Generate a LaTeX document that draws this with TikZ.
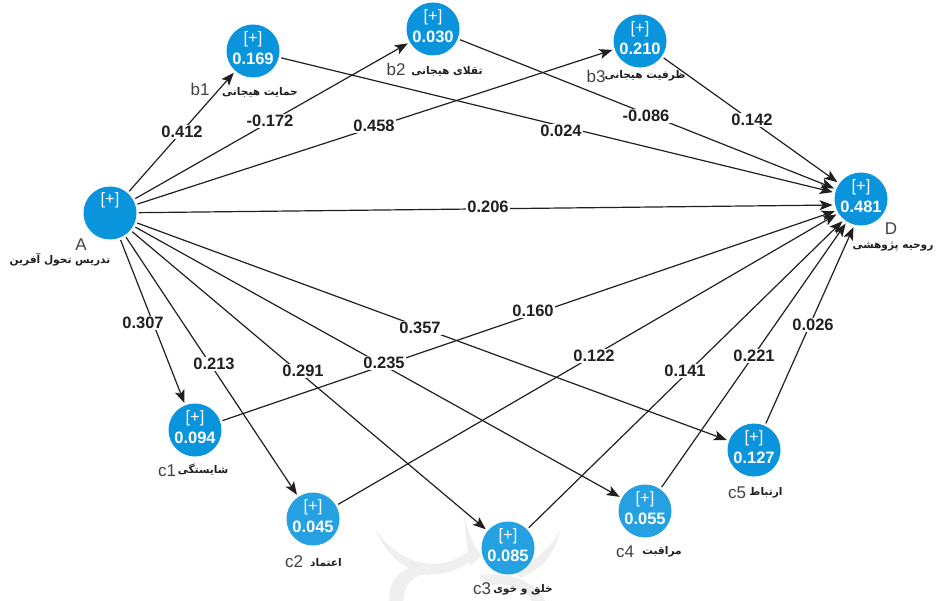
\documentclass[tikz,border=0pt]{standalone}
\usepackage{fontspec}
\setmainfont{Liberation Sans}
\newfontfamily\arabicfont[Script=Arabic]{DejaVu Sans}
\TeXXeTstate=1
\usetikzlibrary{arrows.meta}
\definecolor{nodeblue}{HTML}{0A94DC}
\definecolor{nodelight}{HTML}{25A1E1}
\definecolor{edgeink}{HTML}{231F20}
\definecolor{watermark}{HTML}{EFEFEF}
\newcommand{\fa}[1]{{\arabicfont\bfseries\beginR #1\endR}}
\tikzset{
  x=1pt,y=-1pt,
  latent/.style={circle,fill=nodeblue,minimum size=53pt,inner sep=0pt,outer sep=2.5pt},
  latentlight/.style={latent,fill=nodelight},
  valuetext/.style={text=white,font=\fontsize{16.5}{21.5}\selectfont,align=center,inner sep=0pt,yshift=3pt},
  path/.style={draw=edgeink,line width=1.2pt,-{Stealth[length=13pt,width=10pt,inset=3pt]}},
  coef/.style={fill=white,text=edgeink,inner sep=1.5pt,font=\fontsize{16.5}{18}\selectfont\bfseries},
  tag/.style={text=edgeink!85,inner sep=0pt,font=\fontsize{17}{18}\selectfont},
  fatag/.style={text=edgeink,inner sep=0pt,font=\fontsize{10.6}{13}\selectfont},
}
\newcommand{\val}[1]{[+]\\\textbf{#1}}
\begin{document}
\begin{tikzpicture}
\useasboundingbox (0,0) rectangle (936,601);
\fill[white] (0,0) rectangle (936,601);

% faint watermark behind the diagram
\fill[watermark] (375,528) .. controls (395,562) and (440,578) .. (472,548) -- (474,558) .. controls (435,590) and (392,572) .. (375,528) -- cycle;
\fill[watermark] (463,510) .. controls (467,530) and (472,545) .. (482,556) -- (470,566) .. controls (466,545) and (466,530) .. (463,510) -- cycle;
\fill[watermark] (560,530) .. controls (556,552) and (542,570) .. (520,578) -- (512,570) .. controls (530,565) and (550,550) .. (560,530) -- cycle;
\fill[watermark] (389,601) .. controls (388,578) and (405,562) .. (428,568) -- (430,575) .. controls (414,572) and (404,585) .. (403,601) -- cycle;
\fill[watermark] (480,575) .. controls (510,572) and (535,580) .. (545,601) -- (532,601) .. controls (525,588) and (505,582) .. (486,585) -- cycle;

\node[latent,label={[valuetext,yshift=10pt]center:{[+]}}] (A) at (110,213) {};
\node[latent,label={[valuetext]center:{\val{0.169}}}] (b1) at (253,51) {};
\node[latent,label={[valuetext]center:{\val{0.030}}}] (b2) at (433,29) {};
\node[latent,label={[valuetext]center:{\val{0.210}}}] (b3) at (640,41) {};
\node[latent,label={[valuetext]center:{\val{0.481}}}] (D) at (861,199) {};
\node[latent,label={[valuetext]center:{\val{0.094}}}] (c1) at (195,430) {};
\node[latentlight,label={[valuetext]center:{\val{0.045}}}] (c2) at (313,519) {};
\node[latentlight,label={[valuetext]center:{\val{0.085}}}] (c3) at (508,548) {};
\node[latentlight,label={[valuetext]center:{\val{0.055}}}] (c4) at (645,511) {};
\node[latent,label={[valuetext]center:{\val{0.127}}}] (c5) at (754,450) {};

\foreach \s/\t in {A/b1,A/b2,A/b3,A/D.192,A/c1,A/c2,A/c3,A/c4,A/c5,b1/D,b2/D,b3/D,c1/D.205,c2/D.212,c3/D.230,c4/D.238,c5/D.255}
  \draw[path] (\s) -- (\t);

\node[coef] (k1) at (182,132) {0.412};
\node[coef] (k2) at (270,121) {-0.172};
\node[coef] (k3) at (374,126) {0.458};
\node[coef] (k4) at (561,131) {0.024};
\node[coef] (k5) at (646,116) {-0.086};
\node[coef] (k6) at (752,120) {0.142};
\node[coef] (k7) at (488,207) {0.206};
\node[coef] (k8) at (533,311) {0.160};
\node[coef] (k9) at (594,356) {0.122};
\node[coef] (k10) at (685,371) {0.141};
\node[coef] (k11) at (754,356) {0.221};
\node[coef] (k12) at (813,325) {0.026};
\node[coef] (k13) at (143,323) {0.307};
\node[coef] (k14) at (214,364) {0.213};
\node[coef] (k15) at (303,371) {0.291};
\node[coef] (k16) at (384,363) {0.235};
\node[coef] (k17) at (420,328) {0.357};

\node[tag] (tA) at (81,245) {A};
\node[tag] (tb1) at (200,89) {b1};
\node[tag] (tb2) at (396,69) {b2};
\node[tag] (tb3) at (596,76) {b3};
\node[tag] (tD) at (891,229) {D};
\node[tag] (tc1) at (167,471) {c1};
\node[tag] (tc2) at (294,562) {c2};
\node[tag] (tc3) at (482,589) {c3};
\node[tag] (tc4) at (625,552) {c4};
\node[tag] (tc5) at (737,493) {c5};

\node[fatag] (fA) at (60,260) {\fa{تدریس تحول آفرین}};
\node[fatag] (fb1) at (260,92) {\fa{حمایت هیجانی}};
\node[fatag] (fb2) at (447,71) {\fa{تقلای هیجانی}};
\node[fatag] (fb3) at (645,76) {\fa{ظرفیت هیجانی}};
\node[fatag] (fD) at (893,247) {\fa{روحیه پژوهشی}};
\node[fatag] (fc1) at (203,470) {\fa{شایستگی}};
\node[fatag] (fc2) at (326,563) {\fa{اعتماد}};
\node[fatag] (fc3) at (523,590) {\fa{خلق و خوی}};
\node[fatag] (fc4) at (662,552) {\fa{مراقبت}};
\node[fatag] (fc5) at (766,493) {\fa{ارتباط}};
\end{tikzpicture}
\end{document}
